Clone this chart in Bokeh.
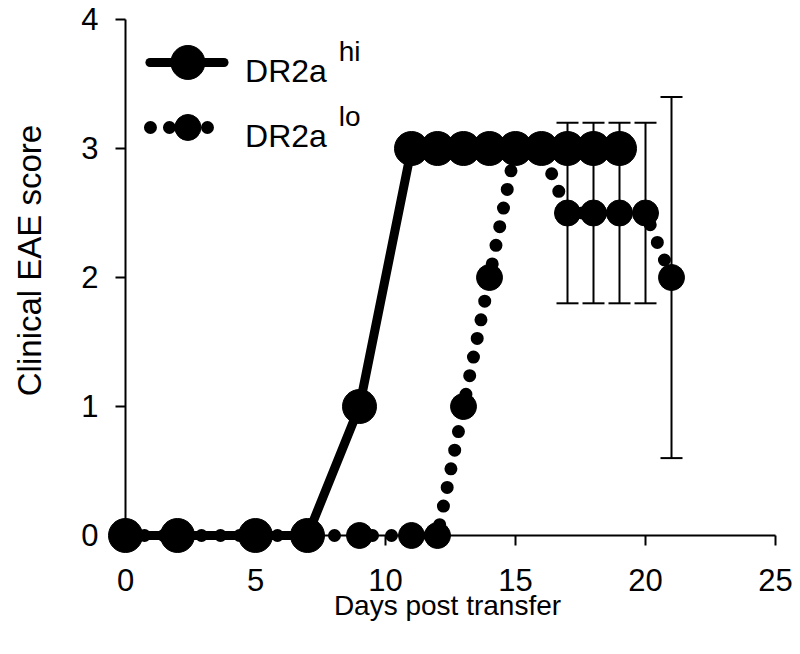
import math
from bokeh.plotting import figure
from bokeh.models import Range1d, Whisker, ColumnDataSource, TeeHead
from bokeh.core.properties import value
from bokeh.embed import file_html
from bokeh.resources import INLINE

# ---- data ----
days_hi = [0, 2, 5, 7, 9, 11, 12, 13, 14, 15, 16, 17, 18, 19]
score_hi = [0, 0, 0, 0, 1, 3, 3, 3, 3, 3, 3, 3, 3, 3]
days_lo = [0, 2, 5, 7, 9, 11, 12, 13, 14, 15, 16, 17, 18, 19, 20, 21]
score_lo = [0, 0, 0, 0, 0, 0, 0, 1, 2, 3, 3, 2.5, 2.5, 2.5, 2.5, 2.0]
err_days = [17, 18, 19, 20, 21]
err_low = [1.8, 1.8, 1.8, 1.8, 0.6]
err_high = [3.2, 3.2, 3.2, 3.2, 3.4]
x_ticks = [0, 5, 10, 15, 20, 25]
y_ticks = [0, 1, 2, 3, 4]
x_title = "Days post transfer"
y_title = "Clinical EAE score"
series_names = ["DR2a", "DR2a"]
series_sup = ["hi", "lo"]

FONT = value("Liberation Sans")
W, H = 800, 654
X0_PX, Y0_PX = 125, 535      # pixel position of the origin
PX_X, PX_Y = 26.0, 129.0     # pixels per unit

p = figure(width=W, height=H, output_backend="svg", toolbar_location=None,
           x_range=Range1d(-X0_PX / PX_X, (W - X0_PX) / PX_X),
           y_range=Range1d(-(H - Y0_PX) / PX_Y, Y0_PX / PX_Y),
           min_border_left=0, min_border_right=0, min_border_top=0,
           min_border_bottom=0)
p.outline_line_color = None
p.xgrid.visible = False
p.ygrid.visible = False
p.xaxis.visible = False
p.yaxis.visible = False
p.background_fill_color = "white"
p.border_fill_color = "white"

# ---- axes drawn from tick lists ----
p.segment(x0=[x_ticks[0]], y0=[y_ticks[0]], x1=[x_ticks[-1]], y1=[y_ticks[0]],
          line_width=2, line_color="black")
p.segment(x0=[x_ticks[0]], y0=[y_ticks[0]], x1=[x_ticks[0]], y1=[y_ticks[-1]],
          line_width=2, line_color="black")
p.ray(x=x_ticks, y=[y_ticks[0]] * len(x_ticks), length=10, length_units="screen",
      angle=-math.pi / 2, line_width=2, line_color="black")
p.ray(x=[x_ticks[0]] * len(y_ticks), y=y_ticks, length=10, length_units="screen",
      angle=math.pi, line_width=2, line_color="black")
p.text(x=x_ticks, y=[y_ticks[0]] * len(x_ticks), text=[str(t) for t in x_ticks],
       text_font=FONT, text_font_size="31px", text_color="black",
       text_align="center", text_baseline="alphabetic", y_offset=44)
p.text(x=[x_ticks[0]] * len(y_ticks), y=y_ticks, text=[str(t) for t in y_ticks],
       text_font=FONT, text_font_size="31px", text_color="black",
       text_align="right", text_baseline="alphabetic", x_offset=-27, y_offset=-1)
p.text(x=[(x_ticks[0] + x_ticks[-1]) / 2], y=[y_ticks[0]], text=[x_title],
       text_font=FONT, text_font_size="28px", text_color="black",
       text_align="center", text_baseline="alphabetic", x_offset=-3, y_offset=70)
p.text(x=[x_ticks[0]], y=[(y_ticks[0] + y_ticks[-1]) / 2], text=[y_title],
       text_font=FONT, text_font_size="33px", text_color="black",
       text_align="center", text_baseline="middle", angle=math.pi / 2,
       x_offset=-96, y_offset=-17)

# ---- data lines ----
p.line(days_lo, score_lo, line_width=13, line_color="black",
       line_dash="0 19", line_cap="round")
p.line(days_hi, score_hi, line_width=9, line_color="black", line_join="round")

# error bars
src = ColumnDataSource(dict(x=err_days, lo=err_low, hi=err_high))
wh = Whisker(source=src, base="x", lower="lo", upper="hi", line_width=2,
             line_color="black", level="glyph",
             upper_head=TeeHead(size=22, line_width=2, line_color="black"),
             lower_head=TeeHead(size=22, line_width=2, line_color="black"))
p.add_layout(wh)

# markers
p.scatter(days_lo, score_lo, size=26, fill_color="black", line_color="black")
p.scatter(days_hi, score_hi, size=34, fill_color="black", line_color="black")

# ---- legend (layout positions in axis units) ----
leg_y = [3.667, 3.163]
leg_line_x = [0.94, 3.79]
leg_dot_x = [0.96, 3.2]
leg_mark_x = 2.4
leg_text_x = 4.6
leg_sup_x = 8.2
p.line(leg_line_x, [leg_y[0]] * 2, line_width=9, line_color="black", line_cap="round")
p.scatter([leg_mark_x], [leg_y[0]], size=34, fill_color="black", line_color="black")
p.line(leg_dot_x, [leg_y[1]] * 2, line_width=13, line_color="black",
       line_dash="0 19", line_cap="round")
p.scatter([leg_mark_x], [leg_y[1]], size=26, fill_color="black", line_color="black")
p.text(x=[leg_text_x] * 2, y=leg_y, text=series_names, text_font=FONT,
       text_font_size="32px", text_color="black", text_baseline="alphabetic",
       y_offset=9)
p.text(x=[leg_sup_x] * 2, y=leg_y, text=series_sup, text_font=FONT,
       text_font_size="28px", text_color="black", text_baseline="alphabetic",
       y_offset=-11)

open("out.html", "w").write(file_html(p, INLINE))
